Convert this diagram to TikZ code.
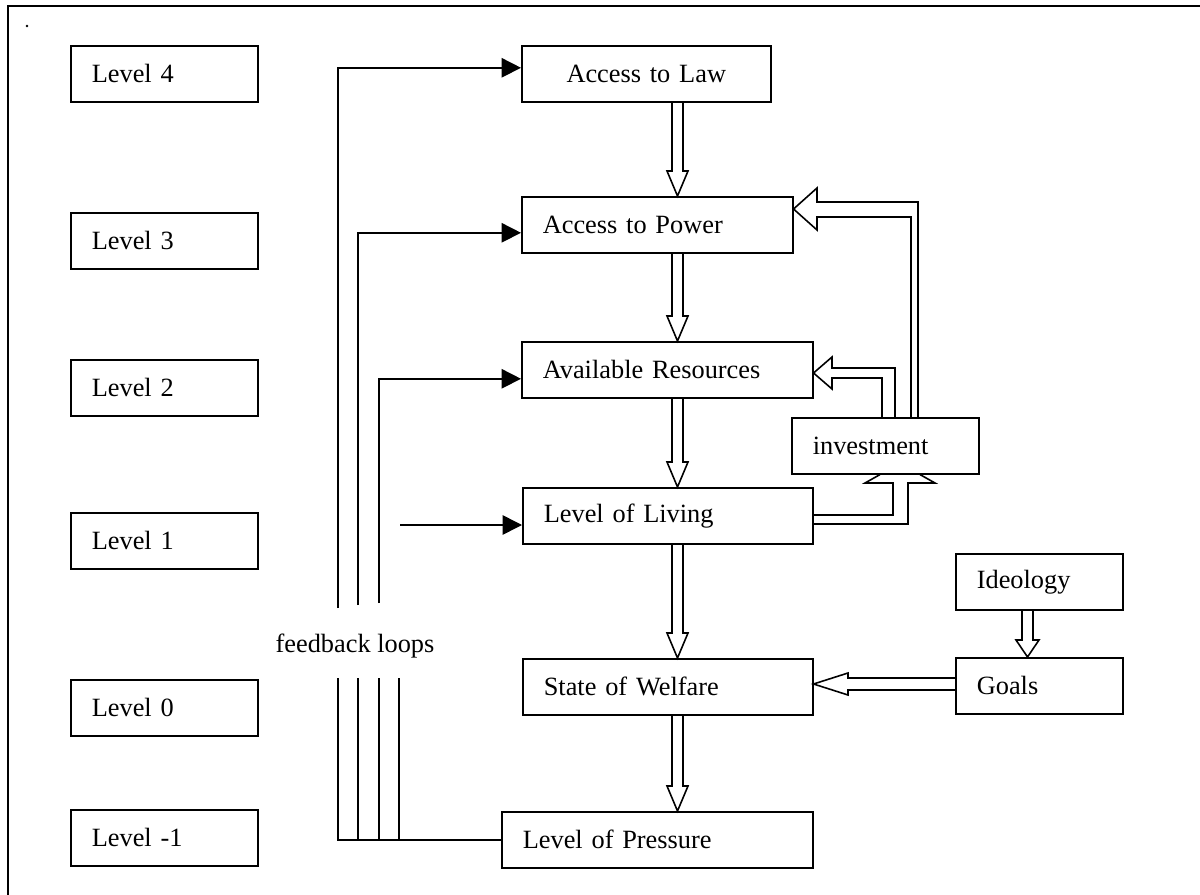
\documentclass[tikz,border=0pt]{standalone}
\usepackage{fontspec}
\setmainfont{Liberation Serif}
\usepackage{tikz}
\usetikzlibrary{arrows.meta}

\tikzset{
    lev/.style={draw, anchor=north west, minimum height=1.12cm, text width=2.9cm,
        inner xsep=0.42cm, align=left},
    box/.style={draw, anchor=north west, minimum height=1.12cm, inner xsep=0.42cm, align=left},
    fb/.style={-{Triangle[length=11pt, width=11pt]}},
    blk/.style={line join=miter},
}

\begin{document}
\begin{tikzpicture}[x=0.02cm, y=-0.02cm, line width=0.9pt, font=\fontsize{15}{18}\selectfont]
        \useasboundingbox (0, 0) rectangle (1200, 895);
        \draw (1200, 6) -- (8, 6) -- (8, 895);
        \fill (27, 26) circle(0.8pt);

        \node[lev] (l4) at (70, 45) {Level 4};
        \node[lev] (l3) at (70, 212) {Level 3};
        \node[lev] (l2) at (70, 359) {Level 2};
        \node[lev] (l1) at (70, 512) {Level 1};
        \node[lev] (l0) at (70, 679) {Level 0};
        \node[lev] (lm1) at (70, 809) {Level -1};

        \node[box, text width=4.14cm, align=center] (law) at (521, 45) {Access to Law};
        \node[box, text width=4.58cm] (power) at (521, 196) {Access to Power};
        \node[box, text width=4.98cm] (res) at (521, 341) {Available Resources};
        \node[box, text width=4.96cm] (liv) at (522, 487) {Level of Living};
        \node[box, text width=4.96cm] (wel) at (522, 658) {State of Welfare};
        \node[box, text width=5.38cm] (press) at (501, 811) {Level of Pressure};
        \node[box, text width=2.9cm] (inv) at (791, 417) {investment};
        \node[box, text width=2.5cm] (ideo) at (955, 553) {Ideology};
        \node[box, text width=2.5cm] (goals) at (955, 657) {Goals};

        \draw[blk] (672, 0 |- law.south) -- (672, 171) -- (667, 171) -- (677.5, 0 |- power.north)
            -- (688, 171) -- (683, 171) -- (683, 0 |- law.south);
        \draw[blk] (672, 0 |- power.south) -- (672, 316) -- (667, 316) -- (677.5, 0 |- res.north)
            -- (688, 316) -- (683, 316) -- (683, 0 |- power.south);
        \draw[blk] (672, 0 |- res.south) -- (672, 462) -- (667, 462) -- (677.5, 0 |- liv.north)
            -- (688, 462) -- (683, 462) -- (683, 0 |- res.south);
        \draw[blk] (672, 0 |- liv.south) -- (672, 633) -- (667, 633) -- (677.5, 0 |- wel.north)
            -- (688, 633) -- (683, 633) -- (683, 0 |- liv.south);
        \draw[blk] (672, 0 |- wel.south) -- (672, 786) -- (667, 786) -- (677.5, 0 |- press.north)
            -- (688, 786) -- (683, 786) -- (683, 0 |- wel.south);

        \draw[blk] (1022, 0 |- ideo.south) -- (1022, 640) -- (1016, 640) -- (1027.5, 0 |- goals.north)
            -- (1039, 640) -- (1033, 640) -- (1033, 0 |- ideo.south);
        \draw[blk] (goals.west |- 0, 678) -- (848, 678) -- (848, 673) -- (wel.east |- 0, 684)
            -- (848, 695) -- (848, 690) -- (goals.west |- 0, 690);

        \draw[blk] (918, 0 |- inv.north) -- (918, 202) -- (817, 202) -- (817, 188)
            -- (power.east |- 0, 209) -- (817, 230) -- (817, 217) -- (911, 217) -- (911, 0 |- inv.north);
        \draw[blk] (895, 0 |- inv.north) -- (895, 368) -- (832, 368) -- (832, 357)
            -- (res.east |- 0, 373) -- (832, 389) -- (832, 378) -- (882, 378) -- (882, 0 |- inv.north);
        \draw[blk] (liv.east |- 0, 515) -- (893, 515) -- (893, 483) -- (865, 483) -- (880, 0 |- inv.south);
        \draw[blk] (liv.east |- 0, 524) -- (908, 524) -- (908, 483) -- (935, 483) -- (920, 0 |- inv.south);

        \draw (press.west) -- (338, 0 |- press.west) -- (338, 678);
        \draw (358, 0 |- press.west) -- (358, 678);
        \draw (379, 0 |- press.west) -- (379, 678);
        \draw (399, 0 |- press.west) -- (399, 678);
        \draw[fb] (338, 608) |- ([yshift=0.12cm]law.west);
        \draw[fb] (358, 605) |- ([yshift=-0.16cm]power.west);
        \draw[fb] (379, 603) |- ([yshift=-0.18cm]res.west);
        \draw[fb] (400, 525) -- (liv.west |- 0, 525);
        \node (fbl) at (355, 646) {feedback loops};
    \end{tikzpicture}
\end{document}
